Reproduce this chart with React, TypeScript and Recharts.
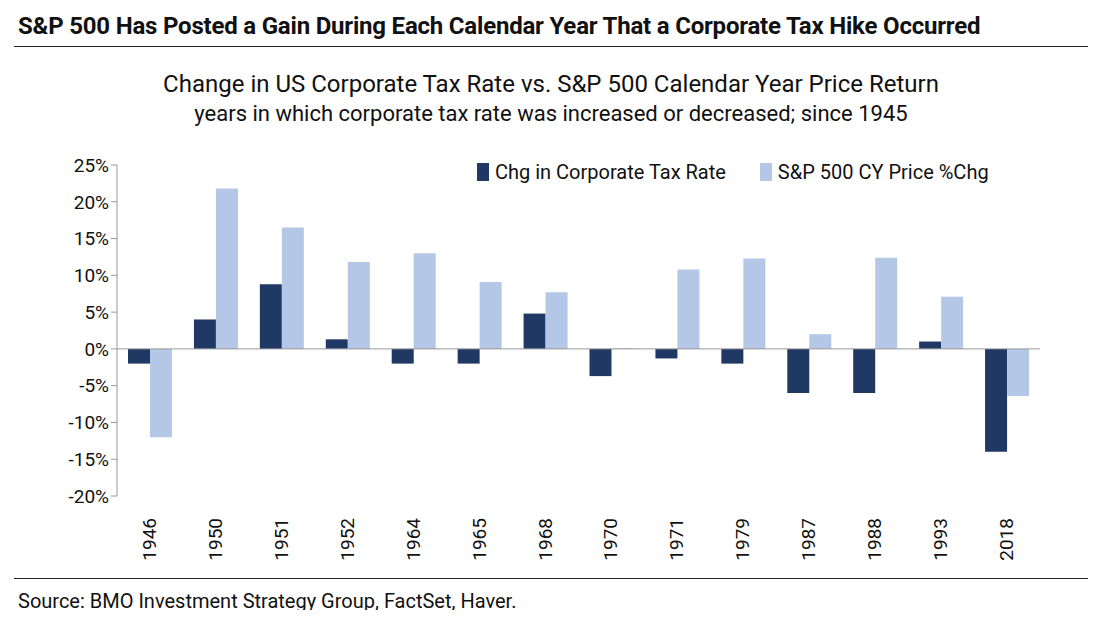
import { BarChart, Bar, XAxis, YAxis, ReferenceLine } from 'recharts'

const years = ['1946', '1950', '1951', '1952', '1964', '1965', '1968', '1970', '1971', '1979', '1987', '1988', '1993', '2018']
const taxChg = [-2, 4, 8.8, 1.3, -2, -2, 4.8, -3.7, -1.3, -2, -6, -6, 1, -14]
const spxChg = [-12, 21.8, 16.5, 11.8, 13, 9.1, 7.7, 0.1, 10.8, 12.3, 2.0, 12.4, 7.1, -6.4]
const yTicks = [-20, -15, -10, -5, 0, 5, 10, 15, 20, 25]

const data = years.map((y, i) => ({ year: y, tax: taxChg[i], spx: spxChg[i] }))

const FONT = 'Roboto, "Open Sans", sans-serif'
const DARK = '#1F3864'
const LIGHT = '#B4C7E7'

function YearTick({ x, y, payload }: any) {
  return (
    <text x={x} y={y} transform={`rotate(-90 ${x} ${y})`} dx={-14} dy={6} textAnchor="end" fontSize={19} fill="#111" fontFamily={FONT}>
      {payload.value}
    </text>
  )
}

export default function App() {
  return (
    <div style={{ position: 'relative', width: 1102, height: 618, margin: -8, background: '#fff', fontFamily: FONT, color: '#111' }}>
      <div style={{ position: 'absolute', left: 18, top: 12, fontSize: 24, fontWeight: 700, letterSpacing: -0.2 }}>
        S&amp;P 500 Has Posted a Gain During Each Calendar Year That a Corporate Tax Hike Occurred
      </div>
      <div style={{ position: 'absolute', left: 14, right: 14, top: 46, borderTop: '1.5px solid #222' }} />
      <div style={{ position: 'absolute', left: 0, width: 1102, top: 70, textAlign: 'center', fontSize: 24 }}>
        Change in US Corporate Tax Rate vs. S&amp;P 500 Calendar Year Price Return
      </div>
      <div style={{ position: 'absolute', left: 0, width: 1102, top: 101, textAlign: 'center', fontSize: 22 }}>
        years in which corporate tax rate was increased or decreased; since 1945
      </div>
      <div style={{ position: 'absolute', left: 477, top: 160, fontSize: 20, display: 'flex', alignItems: 'center', gap: 34 }}>
        <span style={{ display: 'flex', alignItems: 'center', gap: 6 }}>
          <span style={{ width: 12, height: 18, background: DARK, display: 'inline-block' }} />
          Chg in Corporate Tax Rate
        </span>
        <span style={{ display: 'flex', alignItems: 'center', gap: 6 }}>
          <span style={{ width: 12, height: 18, background: LIGHT, display: 'inline-block' }} />
          S&amp;P 500 CY Price %Chg
        </span>
      </div>
      <div style={{ position: 'absolute', left: 0, top: 0 }}>
        <BarChart width={1102} height={618} data={data} margin={{ top: 165, bottom: 52, left: 37, right: 62 }} barGap={0} barSize={22}>
          <YAxis
            domain={[-20, 25]}
            ticks={yTicks}
            width={80}
            tickFormatter={(v) => `${v}%`}
            tick={{ fontSize: 19, fill: '#111', fontFamily: FONT }}
            axisLine={{ stroke: '#999' }}
            tickLine={{ stroke: '#999' }}
            interval={0}
          />
          <XAxis dataKey="year" height={70} axisLine={false} tickLine={false} tick={<YearTick />} interval={0} />
          <ReferenceLine y={0} stroke="#999" />
          <Bar dataKey="tax" fill={DARK} isAnimationActive={false} />
          <Bar dataKey="spx" fill={LIGHT} isAnimationActive={false} />
        </BarChart>
      </div>
      <div style={{ position: 'absolute', left: 14, right: 14, top: 578, borderTop: '1.5px solid #222' }} />
      <div style={{ position: 'absolute', left: 18, top: 589, fontSize: 20 }}>
        Source: BMO Investment Strategy Group, FactSet, Haver.
      </div>
    </div>
  )
}
